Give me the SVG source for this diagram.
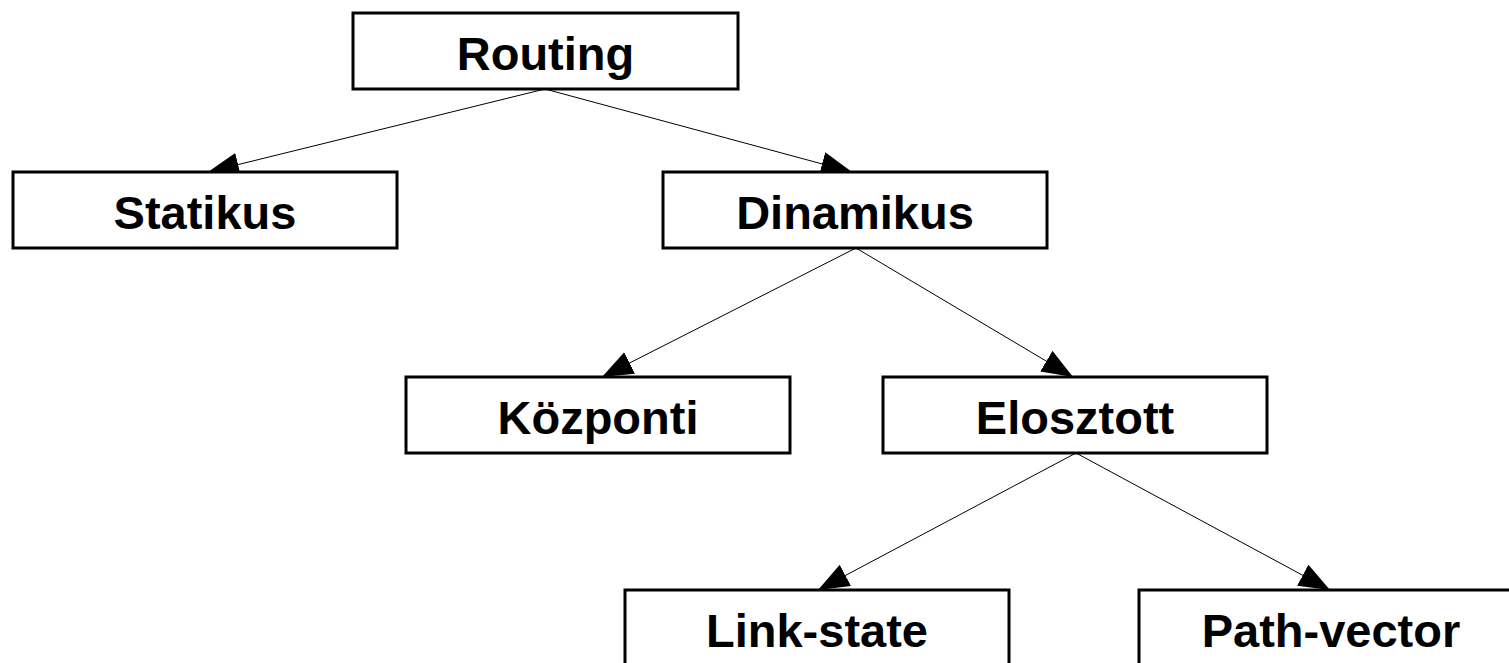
<svg xmlns="http://www.w3.org/2000/svg" width="1509" height="663" viewBox="0 0 1509 663">
  <style>
    .box { fill: #ffffff; stroke: #000000; stroke-width: 3; }
    .lbl { font-family: "Liberation Sans", Arial, sans-serif; font-weight: bold; font-size: 47px; fill: #000000; text-anchor: middle; }
    .edge { stroke: #000000; stroke-width: 1; fill: none; marker-end: url(#arrow); }
  </style>
  <defs>
    <marker id="arrow" markerUnits="userSpaceOnUse" markerWidth="34" markerHeight="26" refX="31" refY="12" orient="auto">
      <path d="M0,0 L31,12 L0,24 z" fill="#000000"/>
    </marker>
  </defs>
  <rect width="1509" height="663" fill="#ffffff"/>
  <g id="connectors">
    <line class="edge" x1="545" y1="89" x2="208" y2="172"/>
    <line class="edge" x1="545" y1="89" x2="852" y2="172"/>
    <line class="edge" x1="856" y1="248" x2="602" y2="377"/>
    <line class="edge" x1="856" y1="248" x2="1073" y2="377"/>
    <line class="edge" x1="1076" y1="453" x2="818" y2="590"/>
    <line class="edge" x1="1076" y1="453" x2="1330" y2="590"/>
  </g>
  <g id="routing">
    <rect class="box" x="353" y="13" width="385" height="76"/>
    <text class="lbl" x="545.5" y="70">Routing</text>
  </g>
  <g id="statikus">
    <rect class="box" x="13" y="172" width="384" height="76"/>
    <text class="lbl" x="205" y="229">Statikus</text>
  </g>
  <g id="dinamikus">
    <rect class="box" x="663" y="172" width="384" height="76"/>
    <text class="lbl" x="855" y="229">Dinamikus</text>
  </g>
  <g id="kozponti">
    <rect class="box" x="406" y="377" width="384" height="76"/>
    <text class="lbl" x="598" y="434">Központi</text>
  </g>
  <g id="elosztott">
    <rect class="box" x="883" y="377" width="384" height="76"/>
    <text class="lbl" x="1075" y="434">Elosztott</text>
  </g>
  <g id="link-state">
    <rect class="box" x="625" y="590" width="384" height="76"/>
    <text class="lbl" x="817" y="647">Link-state</text>
  </g>
  <g id="path-vector">
    <rect class="box" x="1139" y="590" width="384" height="76"/>
    <text class="lbl" x="1331" y="647">Path-vector</text>
  </g>
</svg>
